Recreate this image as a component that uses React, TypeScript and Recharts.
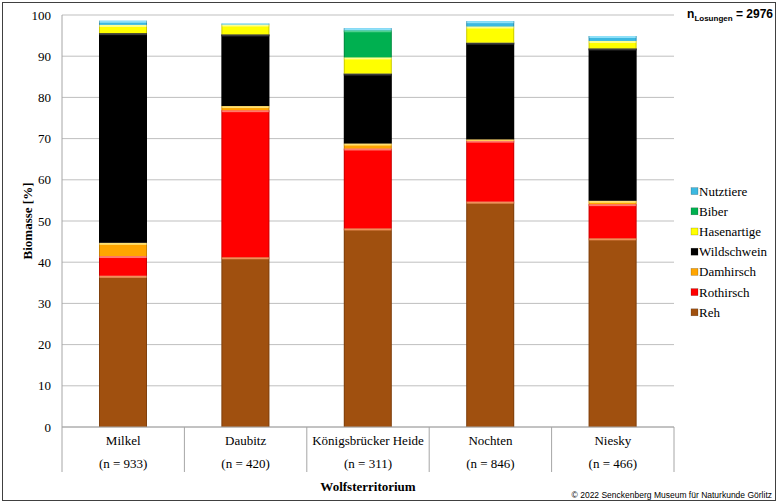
import React from 'react';
import { Bar, BarChart, CartesianGrid, Legend, XAxis, YAxis } from 'recharts';

// Wolfsterritorien in der Lausitz, Anteil der Beutearten an der Biomasse
const territories = ['Milkel', 'Daubitz', 'Königsbrücker Heide', 'Nochten', 'Niesky'];
const sampleSizes = [933, 420, 311, 846, 466];

const reh = [36.7, 41.2, 48.2, 54.7, 45.8];
const rothirsch = [4.8, 35.7, 19.4, 14.8, 8.3];
const damhirsch = [3.2, 1.0, 1.2, 0.3, 0.8];
const wildschwein = [50.9, 17.4, 17.0, 23.5, 37.0];
const hasenartige = [2.0, 2.4, 3.9, 3.9, 1.8];
const biber = [0, 0, 6.6, 0, 0];
const nutztiere = [1.0, 0.2, 0.5, 1.3, 1.2];

const yTicks = [0, 10, 20, 30, 40, 50, 60, 70, 80, 90, 100];
const totalSamples = 2976;

const series = [
  { key: 'reh', name: 'Reh', values: reh, color: '#A0500F', light: '#F0905A' },
  { key: 'rothirsch', name: 'Rothirsch', values: rothirsch, color: '#FF0000', light: '#FF7A6A' },
  { key: 'damhirsch', name: 'Damhirsch', values: damhirsch, color: '#FFA500', light: '#FFE070' },
  { key: 'wildschwein', name: 'Wildschwein', values: wildschwein, color: '#000000', light: '#3a3a3a' },
  { key: 'hasenartige', name: 'Hasenartige', values: hasenartige, color: '#FFFF00', light: '#FFFF90' },
  { key: 'biber', name: 'Biber', values: biber, color: '#00B050', light: '#50D090' },
  { key: 'nutztiere', name: 'Nutztiere', values: nutztiere, color: '#3CB8E0', light: '#90E0F8' },
];

const data = territories.map((name, i) => {
  const row: Record<string, string | number> = { name, n: sampleSizes[i] };
  series.forEach((s) => (row[s.key] = s.values[i]));
  return row;
});

const serif = 'Liberation Serif, Times New Roman, serif';
const sans = 'Liberation Sans, Arial, sans-serif';
const axisGrey = '#A6A6A6';

function BevelBar(props: any) {
  const { x, y, width, height, fill, light } = props;
  if (!height || height <= 0) return null;
  const hl = Math.min(2, height);
  return (
    <g>
      <rect x={x} y={y} width={width} height={height} fill={fill} />
      <rect x={x} y={y} width={width} height={hl} fill={light} />
      <rect x={x} y={y} width={1} height={height} fill="rgba(0,0,0,0.2)" />
      <rect x={x + width - 1} y={y} width={1} height={height} fill="rgba(0,0,0,0.2)" />
    </g>
  );
}

function TerritoryTick(props: any) {
  const { x, y, payload, index } = props;
  const half = payload?.offset ?? 61.2;
  const lineBottom = y + 45;
  return (
    <g>
      <line x1={x - half} x2={x - half} y1={y} y2={lineBottom} stroke={axisGrey} />
      {index === territories.length - 1 && (
        <line x1={x + half} x2={x + half} y1={y} y2={lineBottom} stroke={axisGrey} />
      )}
      <text x={x} y={y + 18} textAnchor="middle" fontFamily={serif} fontSize={13} fill="#000">
        {payload.value}
      </text>
      <text x={x} y={y + 41} textAnchor="middle" fontFamily={serif} fontSize={13} fill="#000">
        {`(n = ${sampleSizes[index]})`}
      </text>
    </g>
  );
}

function LegendList() {
  const rows = [...series].reverse();
  const step = 20.2;
  return (
    <svg width={88} height={rows.length * step} style={{ display: 'block' }}>
      {rows.map((s, i) => {
        const cy = i * step + step / 2;
        return (
          <g key={s.key}>
            <rect x={1} y={cy - 3.5} width={7} height={7} fill={s.color} stroke="rgba(0,0,0,0.35)" strokeWidth={0.5} />
            <text x={9} y={cy + 4.5} fontFamily={serif} fontSize={13} fill="#000">
              {s.name}
            </text>
          </g>
        );
      })}
    </svg>
  );
}

export default function App() {
  return (
    <div style={{ position: 'absolute', left: 0, top: 0, width: 779, height: 504, background: '#fff' }}>
      <div
        style={{
          position: 'absolute',
          left: 2,
          top: 2,
          width: 772,
          height: 497,
          border: '1px solid #404040',
        }}
      />
      <BarChart
        width={779}
        height={504}
        data={data}
        margin={{ top: 15, right: 105, left: 0, bottom: 13 }}
        barSize={48}
      >
        <CartesianGrid vertical={false} stroke="#BFBFBF" />
        <XAxis
          dataKey="name"
          stroke={axisGrey}
          tickLine={false}
          tickSize={0}
          tickMargin={0}
          height={64}
          interval={0}
          tick={<TerritoryTick />}
          label={{
            value: 'Wolfsterritorium',
            position: 'insideBottom',
            offset: 0,
            style: { fontFamily: serif, fontSize: 13, fontWeight: 'bold', fill: '#000' },
          }}
        />
        <YAxis
          width={62}
          domain={[0, 100]}
          ticks={yTicks}
          stroke={axisGrey}
          tickLine={false}
          tickMargin={5}
          tick={{ fontFamily: serif, fontSize: 13, fill: '#000' }}
          label={{
            value: 'Biomasse [%]',
            angle: -90,
            position: 'center',
            dx: -4,
            style: { fontFamily: serif, fontSize: 13, fontWeight: 'bold', fill: '#000' },
          }}
        />
        <Legend
          layout="vertical"
          align="center"
          verticalAlign="middle"
          wrapperStyle={{ left: 690, top: 181, width: 88 }}
          content={() => <LegendList />}
        />
        {series.map((s) => (
          <Bar
            key={s.key}
            dataKey={s.key}
            name={s.name}
            stackId="biomasse"
            fill={s.color}
            isAnimationActive={false}
            shape={(p: any) => <BevelBar {...p} light={s.light} />}
          />
        ))}
      </BarChart>
      <div
        style={{
          position: 'absolute',
          right: 6,
          top: 7,
          fontFamily: sans,
          fontWeight: 'bold',
          fontSize: 12,
          color: '#000',
          whiteSpace: 'nowrap',
        }}
      >
        n<sub style={{ fontSize: 8 }}>Losungen</sub> = {totalSamples}
      </div>
      <div
        style={{
          position: 'absolute',
          right: 7,
          top: 490,
          fontFamily: sans,
          fontSize: 8.5,
          color: '#000',
          whiteSpace: 'nowrap',
        }}
      >
        © 2022 Senckenberg Museum für Naturkunde Görlitz
      </div>
    </div>
  );
}
